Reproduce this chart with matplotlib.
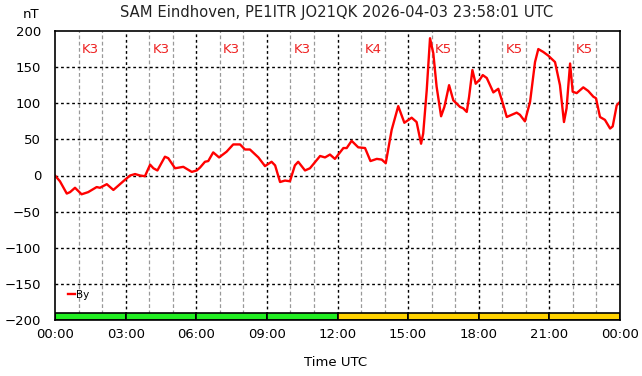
import matplotlib
matplotlib.use("Agg")
import matplotlib.pyplot as plt
from matplotlib.patches import Rectangle

# ---- data ----
hours = [0.00, 0.21, 0.50, 0.64, 0.85, 1.13, 1.41, 1.77, 1.91, 2.20, 2.48, 2.76, 2.97,
         3.19, 3.40, 3.61, 3.82, 4.04, 4.18, 4.35, 4.67, 4.81, 5.10, 5.45, 5.81, 6.02,
         6.16, 6.37, 6.51, 6.72, 6.97, 7.29, 7.57, 7.86, 8.07, 8.28, 8.64, 8.92, 9.20,
         9.35, 9.56, 9.77, 9.98, 10.19, 10.33, 10.62, 10.83, 11.26, 11.47, 11.68, 11.89,
         12.25, 12.39, 12.60, 12.88, 13.17, 13.40, 13.67, 13.88, 14.05, 14.30, 14.58,
         14.84, 15.15, 15.36, 15.55, 15.64, 15.79, 15.93, 16.07, 16.21, 16.40, 16.54,
         16.74, 16.92, 17.20, 17.34, 17.49, 17.59, 17.73, 17.87, 18.05, 18.17, 18.34,
         18.62, 18.83, 19.04, 19.19, 19.40, 19.61, 19.75, 19.96, 20.18, 20.39, 20.53,
         20.74, 20.95, 21.24, 21.45, 21.62, 21.73, 21.88, 21.99, 22.16, 22.44, 22.65,
         22.87, 22.98, 23.15, 23.36, 23.58, 23.69, 23.86, 24.00]
by_nT = [0, -8, -25, -23, -17, -26, -23, -16, -17, -12, -20, -12, -6,
         0, 2, 0, -1, 15, 10, 7, 26, 24, 10, 12, 5, 7,
         11, 19, 20, 32, 25, 33, 43, 43, 36, 36, 25, 13, 19,
         14, -9, -7, -8, 14, 19, 7, 10, 27, 25, 29, 23,
         38, 38, 48, 39, 38, 20, 23, 22, 17, 63, 96,
         73, 80, 74, 44, 58, 118, 190, 169, 123, 82, 95,
         125, 104, 95, 93, 88, 109, 146, 127, 133, 139, 135,
         115, 120, 98, 81, 84, 87, 84, 75, 102, 157, 175,
         171, 166, 157, 125, 74, 93, 155, 116, 114, 122, 117,
         109, 107, 81, 77, 65, 68, 97, 102]
k_index = [3, 3, 3, 3, 4, 5, 5, 5]
x_tick_labels = ["00:00", "03:00", "06:00", "09:00", "12:00", "15:00", "18:00", "21:00", "00:00"]
title_text = "SAM Eindhoven, PE1ITR JO21QK 2026-04-03 23:58:01 UTC"

fig = plt.figure(figsize=(6.42, 3.76), dpi=100)
ax = fig.add_axes([55/642, 1-320/376, 565/642, 289/376])

ax.set_xlim(0, 24)
ax.set_ylim(-200, 200)

# grids
for h in range(1, 24):
    if h % 3 == 0:
        ax.axvline(h, color="black", linestyle=(0, (2, 2)), linewidth=1.0, zorder=1)
    else:
        ax.axvline(h, color="#999999", linestyle=(0, (3, 2)), linewidth=0.9, zorder=1)
for v in range(-150, 200, 50):
    ax.axhline(v, color="black", linestyle=(0, (2, 2)), linewidth=1.0, zorder=1)

# K-index band and labels
for i, k in enumerate(k_index):
    col = "#22ee22" if k < 4 else "#ffd200"
    ax.add_patch(Rectangle((3*i, -200), 3, 10, facecolor=col, edgecolor="black",
                           linewidth=1.2, zorder=2))
    ax.text(3*i + 1.5, 175, f"K{k}", color="#ee2222", fontsize=9.5,
            ha="center", va="center", zorder=3)

ax.plot(hours, by_nT, color="#ff0000", linewidth=1.7, label="By", zorder=4)

ax.set_xticks(range(0, 25, 3))
ax.set_xticklabels(x_tick_labels)
ax.set_yticks(range(-200, 201, 50))
ax.tick_params(length=0, labelsize=9.5, pad=10)
ax.tick_params(axis="x", pad=6)
for s in ax.spines.values():
    s.set_linewidth(1.2)
    s.set_zorder(5)

ax.legend(loc="lower left", bbox_to_anchor=(0.01, 0.045), frameon=False,
          fontsize=7.5, handlelength=0.7, handletextpad=0.1, borderpad=0.2)

fig.text(337/642, 1-12/376, title_text, ha="center", va="center", fontsize=10.6, color="#222222")
fig.text(31/642, 1-15/376, "nT", ha="center", va="center", fontsize=9.5)
fig.text(336/642, 1-362/376, "Time UTC", ha="center", va="center", fontsize=9.5)

fig.savefig("out.png", dpi=100)
